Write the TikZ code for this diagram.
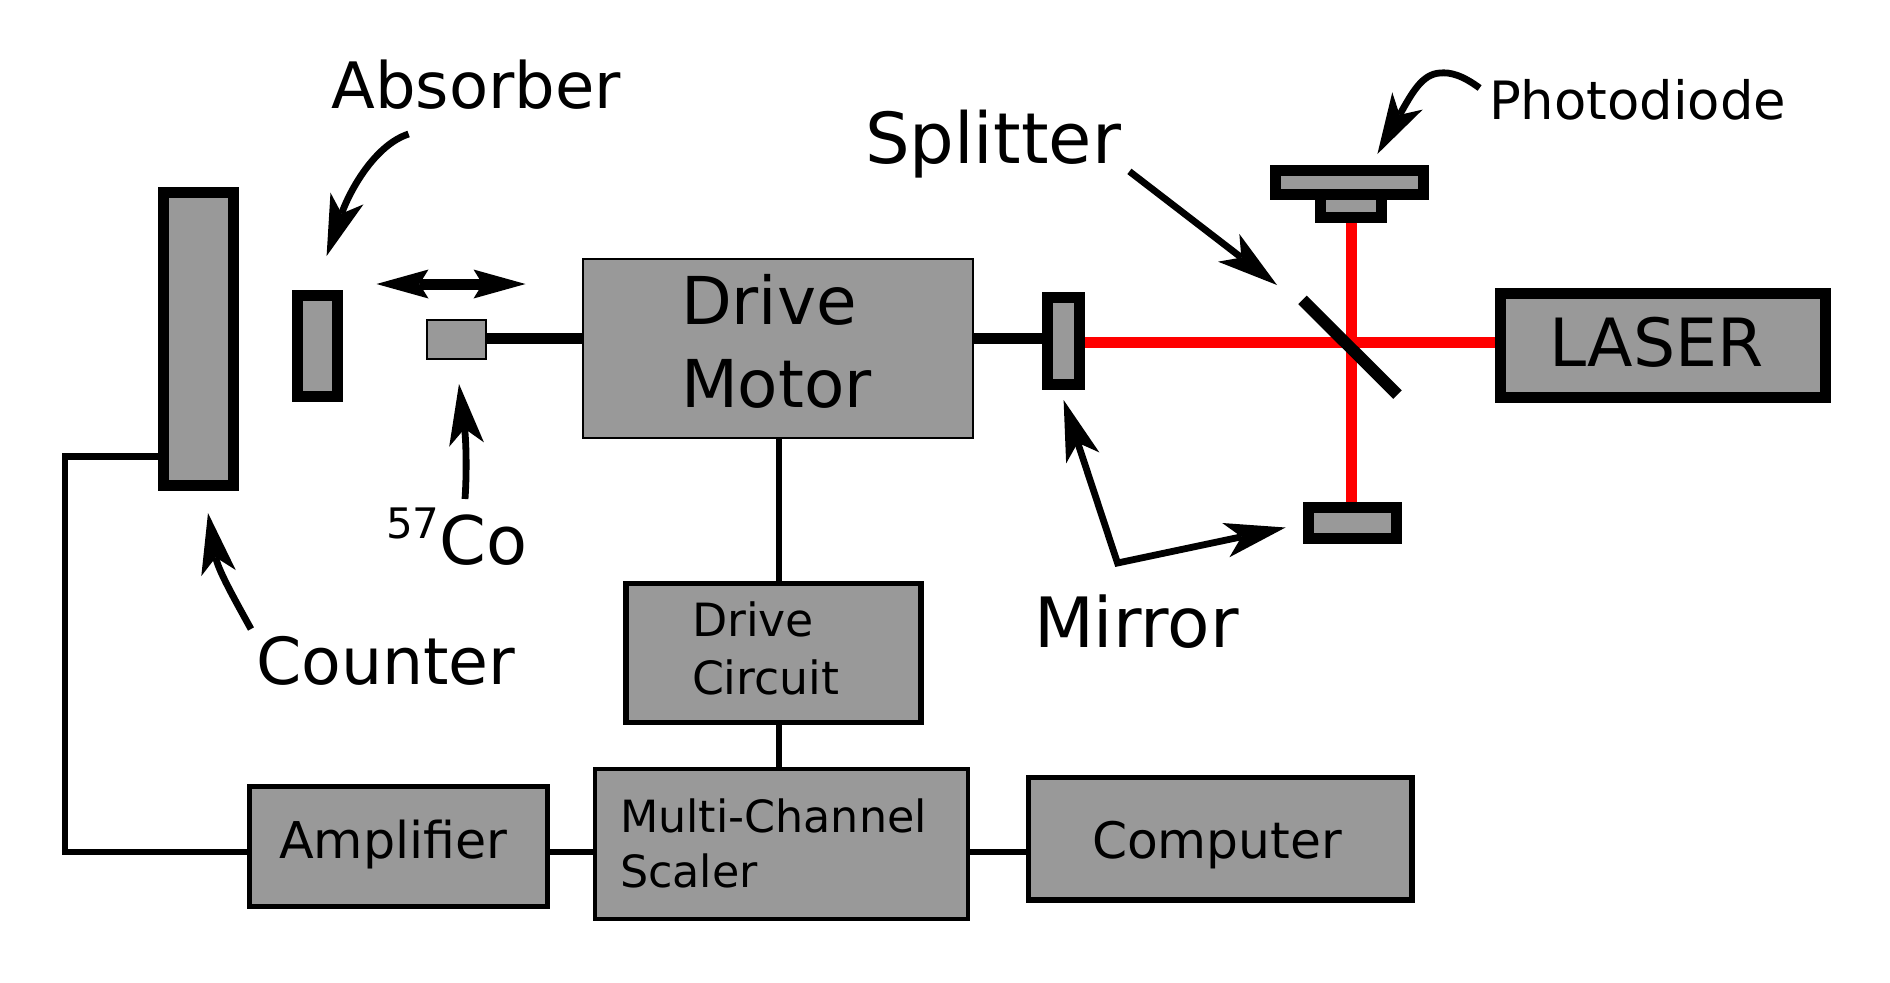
\documentclass[tikz,border=0pt]{standalone}
\usepackage{fontspec}
\setmainfont{DejaVu Sans}
\usetikzlibrary{arrows.meta}
\definecolor{boxgray}{HTML}{999999}
\tikzset{
  x=.5pt,y=-.5pt,
  box/.style={draw=black,fill=boxgray,inner sep=0pt,rectangle},
  heavy/.style={box,line width=5.5pt},
  medium/.style={box,line width=2.6pt},
  thin box/.style={box,line width=1pt},
  txt/.style={inner sep=0pt,outer sep=0pt,anchor=base west,align=left,text=black},
  wire/.style={draw=black,line width=3.3pt},
  rod/.style={draw=black,line width=5.5pt},
  beamline/.style={draw=red,line width=5.5pt},
  bighead/.tip={Stealth[length=30.5pt,width=17.5pt,inset=8pt,line width=0pt]},
  smallhead/.tip={Stealth[length=26pt,width=14.5pt,inset=4.5pt,line width=0pt]},
  callout/.style={draw=black,line width=3.4pt,line join=miter,arrows={-bighead}},
}
\newcommand{\fs}[2]{\fontsize{#1}{#2}\selectfont}
\begin{document}
\begin{tikzpicture}
\useasboundingbox (0,0) rectangle (1890,982);
% boxes
\node[heavy,minimum width=35pt,minimum height=146.5pt] (counter) at (198,339) {};
\node[heavy,minimum width=20pt,minimum height=50.5pt] (absorber) at (317.7,345.5) {};
\node[thin box,minimum width=29.75pt,minimum height=19.5pt] (src) at (456.7,339.5) {};
\node[thin box,minimum width=194.8pt,minimum height=89.5pt] (motor) at (777.8,348.5) {};
\node[heavy,minimum width=15.75pt,minimum height=43.75pt] (mirrorA) at (1063.4,341.2) {};
\node[heavy,minimum width=162.5pt,minimum height=51.75pt] (laser) at (1662.5,345.25) {};
\node[heavy,minimum width=30.5pt,minimum height=11.25pt] (pdbase) at (1351,205.75) {};
\node[heavy,minimum width=74pt,minimum height=12.25pt] (pdbox) at (1349.5,182.25) {};
\node[heavy,minimum width=44pt,minimum height=15.5pt] (mirrorB) at (1352,522.5) {};
\node[medium,minimum width=147.5pt,minimum height=69.5pt] (circuit) at (773.5,653) {};
\node[box,line width=2.1pt,minimum width=186.5pt,minimum height=75pt] (mcs) at (781.2,844) {};
\node[box,line width=2.5pt,minimum width=149pt,minimum height=60pt] (amp) at (398.7,846.5) {};
\node[medium,minimum width=191.8pt,minimum height=61.3pt] (comp) at (1220.2,838.7) {};
% helper coordinates
\coordinate (shaftL) at (0,338);
\coordinate (shaftR) at (0,338.5);
\coordinate (beam) at (1351,342.2);
\coordinate (wiretop) at (65,456.5);
\coordinate (wirebot) at (65,852);
\coordinate (vert) at (779,0);
\coordinate (splitA) at (1302.5,299.9);
\coordinate (splitB) at (1397.5,394.6);
% connectors
\draw[rod] (src.east |- shaftL) -- (motor.west |- shaftL);
\draw[rod] (motor.east |- shaftR) -- (mirrorA.west |- shaftR);
\draw[wire,line join=miter] (counter.west |- wiretop) -- (wiretop) -- (wirebot) -- (amp.west |- wirebot);
\draw[wire] (amp.east |- wirebot) -- (mcs.west |- wirebot);
\draw[wire] (mcs.east |- wirebot) -- (comp.west |- wirebot);
\draw[wire,line width=3pt] (motor.south -| vert) -- (circuit.north -| vert);
\draw[wire,line width=3pt] (circuit.south -| vert) -- (mcs.north -| vert);
\draw[beamline] (mirrorA.east |- beam) -- (laser.west |- beam);
\draw[beamline] (pdbase.south -| beam) -- (mirrorB.north -| beam);
\draw[draw=black,line width=6pt] (splitA) -- (splitB);
% double arrow
\coordinate (dL) at (376.5,284);
\coordinate (dR) at (525.5,284);
\draw[draw=black,line width=5.5pt,arrows={smallhead-smallhead}] (dL) -- (dR);
% callouts
\coordinate (absT) at (408.6,134);
\coordinate (absH) at (326.6,256);
\draw[callout] (absT) .. controls (375,145) and (350,190) .. (absH);
\coordinate (coT) at (465,499);
\coordinate (coH) at (459,384);
\draw[callout] (coT) .. controls (467,470) and (466,440) .. (coH);
\coordinate (cntT) at (251,629);
\coordinate (cntH) at (208,513);
\draw[callout] (cntT) .. controls (235,600) and (218,570) .. (cntH);
\coordinate (splT) at (1129.4,171.4);
\coordinate (splH) at (1277,285);
\draw[callout] (splT) -- (splH);
\coordinate (phT) at (1479.6,88);
\coordinate (phP) at (1440,73);
\coordinate (phH) at (1377.4,154);
\draw[callout] (phT) .. controls (1462,75) and (1450,72) .. (phP) .. controls (1422,74) and (1412,93) .. (phH);
\coordinate (mirV) at (1117.5,563);
\coordinate (mirH) at (1063.6,400);
\coordinate (mirG) at (1285.5,527.5);
\draw[callout,arrows={bighead-bighead}] (mirH) -- (mirV) -- (mirG);
% texts
\node[txt,font=\fs{32}{40}] (tAbs) at (331.5,108) {Absorber};
\node[txt,font=\fs{35.2}{42}] (tSpl) at (865,163) {Splitter};
\node[txt,font=\fs{26.4}{31}] (tPh) at (1489,119) {Photodiode};
\node[txt,font=\fs{33.25}{40}] (tLas) at (1549,366) {LASER};
\node[txt,font=\fs{33}{41.5}] (tMot) at (681,407) {Drive\\Motor};
\node[txt,font=\fs{34.7}{40}] (tMir) at (1034,647) {Mirror};
\node[txt,font=\fs{32.45}{40}] (tCnt) at (256,684) {Counter};
\node[txt,font=\fs{33.5}{40}] (tCo) at (386,564) {\raisebox{13pt}{\fs{21}{21}57}Co};
\node[txt,font=\fs{22.9}{28.85}] (tCir) at (692,694) {Drive\\Circuit};
\node[txt,font=\fs{25.35}{30}] (tAmp) at (279,858) {Amplifier};
\node[txt,font=\fs{22.2}{27.75}] (tMcs) at (620,887.5) {Multi-Channel\\Scaler};
\node[txt,font=\fs{25.15}{30}] (tCom) at (1092,858) {Computer};
\end{tikzpicture}
\end{document}
